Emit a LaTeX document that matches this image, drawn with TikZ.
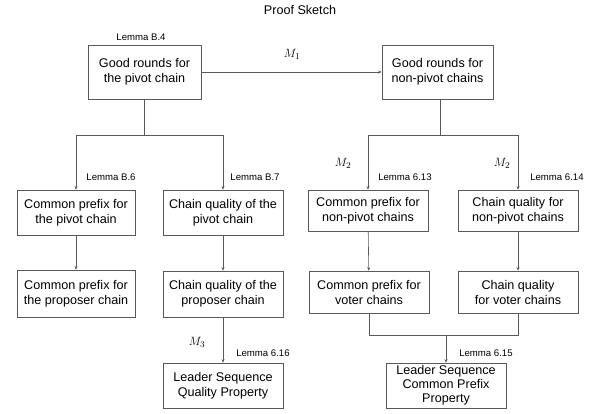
\documentclass[tikz,border=0pt]{standalone}
\usepackage{fontspec}
\setmainfont{Liberation Sans}
\usetikzlibrary{arrows.meta}
\begin{document}
\begin{tikzpicture}[x=1pt,y=-1pt,
  box/.style={draw=black!65,line width=0.6pt,align=center,inner sep=2pt,
    font=\fontsize{12.6}{15}\selectfont,minimum width=#1},
  box/.default=120,
  lem/.style={font=\fontsize{9.6}{11}\selectfont,inner sep=0pt},
  mlab/.style={inner sep=0pt,font=\fontsize{13}{14}\selectfont},
  ln/.style={draw=black!65,line width=0.6pt},
  arr/.style={ln,-{Stealth[length=3.5pt,width=3pt]}}]
\useasboundingbox (0,0) rectangle (600,413);
\node[font=\fontsize{12.6}{14}\selectfont] (title) at (300,10) {Proof Sketch};
% boxes
\node[box=113,minimum height=54] (b1) at (144.5,72) {Good rounds for\\the pivot chain};
\node[box=111,minimum height=54] (b2) at (437.5,72) {Good rounds for\\non-pivot chains};
\node[box=118,minimum height=45] (b3) at (76,212.5) {Common prefix for\\the pivot chain};
\node[box,minimum height=45] (b4) at (223,212.5) {Chain quality of the\\pivot chain};
\node[box=118,minimum height=47] (b5) at (76,293.5) {Common prefix for\\the proposer chain};
\node[box,minimum height=46] (b6) at (223,294) {Chain quality of the\\proposer chain};
\node[box,minimum height=45] (b7) at (223,385.5) {Leader Sequence\\Quality Property};
\node[box,minimum height=41] (b8) at (368,210.5) {Common prefix for\\non-pivot chains};
\node[box,minimum height=41] (b9) at (518,210.5) {Chain quality for\\non-pivot chains};
\node[box,minimum height=42] (b10) at (369,292) {Common prefix for\\voter chains};
\node[box,minimum height=42] (b11) at (518,292) {Chain quality\\for voter chains};
\node[box,minimum height=45,font=\fontsize{12.6}{14}\selectfont] (b12) at (446,385.5) {Leader Sequence\\Common Prefix\\Property};
% labels
\node[lem] (l1) at (141,37) {Lemma B.4};
\node[mlab] (m1) at (292,54) {$M_1$};
\node[lem] (l2) at (111,177) {Lemma B.6};
\node[lem] (l3) at (255,177) {Lemma B.7};
\node[mlab] (m2a) at (343,163) {$M_2$};
\node[mlab] (m2b) at (502,163) {$M_2$};
\node[lem] (l4) at (405,177) {Lemma 6.13};
\node[lem] (l5) at (557,177) {Lemma 6.14};
\node[mlab] (m3) at (197,342) {$M_3$};
\node[lem] (l6) at (263,353) {Lemma 6.16};
\node[lem] (l7) at (486,353) {Lemma 6.15};
% connectors
\draw[arr] (b1) -- (b2);
\coordinate (j1) at (b1.south |- 0,135);
\draw[ln] (b1.south) -- (j1);
\draw[arr] (j1) -| (b3.north);
\draw[arr] (j1) -| (b4.north);
\coordinate (j2) at (440,135);
\draw[ln] (440,99) -- (j2);
\draw[arr] (j2) -| (b8.north);
\draw[arr] (j2) -| (b9.north);
\draw[arr] (b3) -- (b5);
\draw[arr] (b4) -- (b6);
\draw[arr] (b6) -- (b7);
\draw[arr] (b8) -- (b10);
\draw[arr] (b9) -- (b11);
\coordinate (j3) at (446,335);
\draw[ln] (b10.south) |- (j3);
\draw[ln] (b11.south) |- (j3);
\draw[arr] (j3) -- (b12.north);
\end{tikzpicture}
\end{document}
